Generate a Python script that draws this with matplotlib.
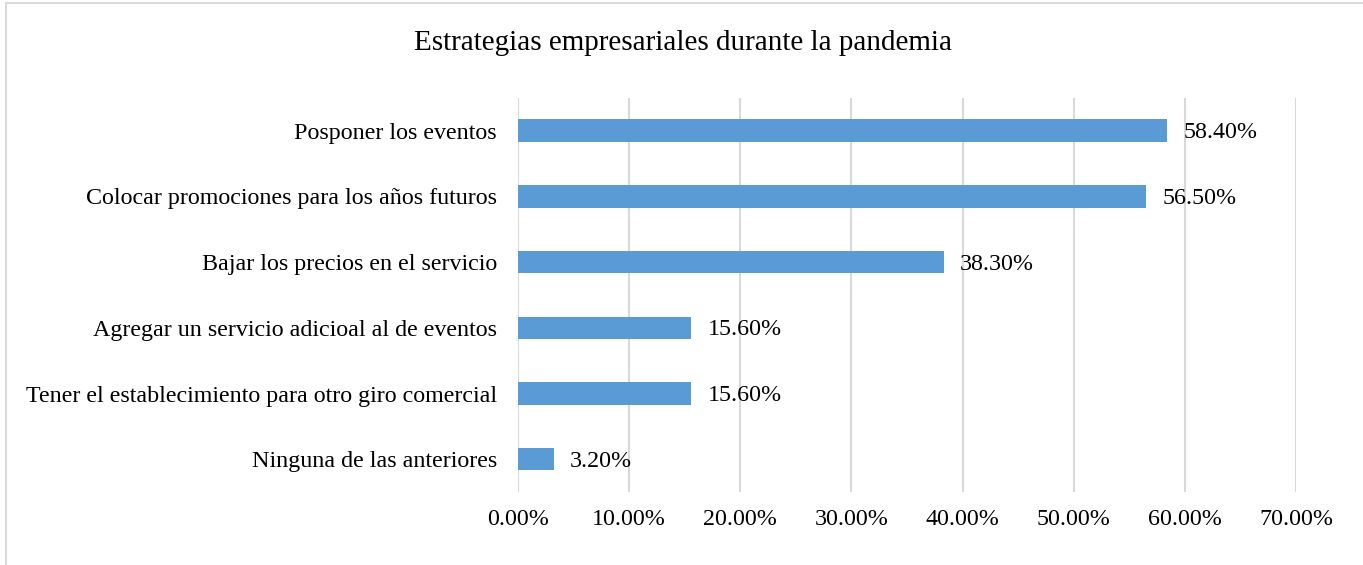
import matplotlib.pyplot as plt
from matplotlib.patches import Rectangle
from matplotlib.ticker import FuncFormatter

categories = [
    'Posponer los eventos',
    'Colocar promociones para los años futuros',
    'Bajar los precios en el servicio',
    'Agregar un servicio adicioal al de eventos',
    'Tener el establecimiento para otro giro comercial',
    'Ninguna de las anteriores',
]
values = [58.4, 56.5, 38.3, 15.6, 15.6, 3.2]
xticks = [0, 10, 20, 30, 40, 50, 60, 70]

plt.rcParams['font.family'] = ['Liberation Serif', 'DejaVu Serif']

fig = plt.figure(figsize=(13.63, 5.65), dpi=100)
ax = fig.add_axes([0.380, 0.129, 0.571, 0.698])

# outer chart frame (light gray, cut off on right/bottom like the source)
fig.patches.append(Rectangle((6 / 1363, -0.05), 1.1, 1 - 3 / 565 + 0.05,
                             transform=fig.transFigure, fill=False,
                             edgecolor='#D9D9D9', linewidth=1.5))

y = list(range(len(categories)))
ax.barh(y, values, height=0.34, color='#5B9BD5', zorder=3)
for yi, v in zip(y, values):
    ax.text(v + 1.45, yi + 0.03, f'{v:.2f}%', va='center', ha='left', fontsize=17.3)

ax.set_ylim(len(categories) - 0.5, -0.5)
ax.set_yticks(y)
ax.set_yticklabels(categories, fontsize=17.3)
ax.set_xlim(0, 70)
ax.set_xticks(xticks)
ax.xaxis.set_major_formatter(FuncFormatter(lambda v, p: f'{v:.2f}%'))
ax.tick_params(axis='x', labelsize=17.3, length=0, pad=12)
ax.tick_params(axis='y', length=0, pad=15)
ax.grid(axis='x', color='#D9D9D9', linewidth=1.5, zorder=0)
for s in ax.spines.values():
    s.set_visible(False)

fig.text(683 / 1363, 1 - 43 / 565, 'Estrategias empresariales durante la pandemia',
         ha='center', va='center', fontsize=21)

fig.savefig('out.png', dpi=100)
